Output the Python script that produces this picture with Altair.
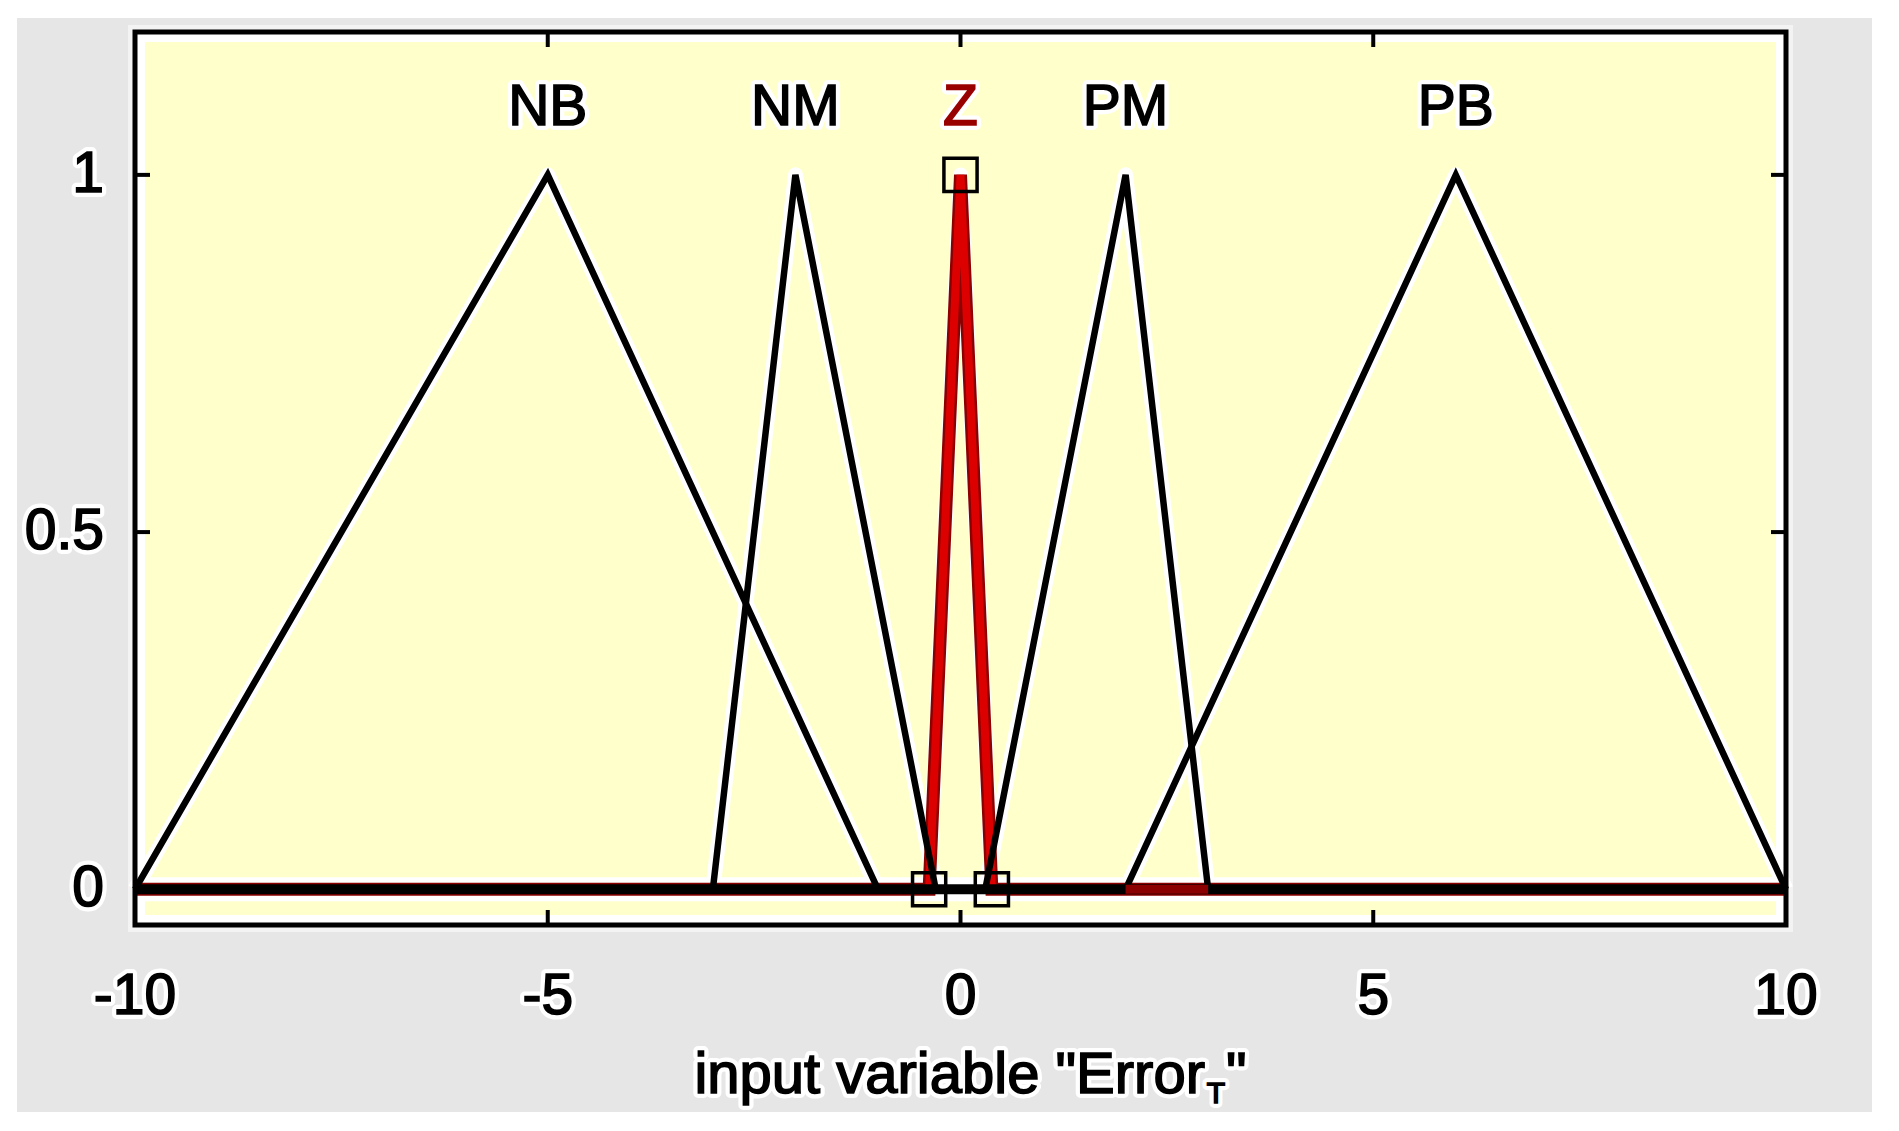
import altair as alt
import pandas as pd

# ---- data ----
mf_names = ["NB", "NM", "Z", "PM", "PB"]
mf_left = [-10, -3, -0.38, 0.3, 2]
mf_peak = [-5, -2, 0, 2, 6]
mf_right = [-1, -0.3, 0.38, 3, 10]
x_range = [-10, 10]
x_ticks = [-10, -5, 0, 5, 10]
y_ticks = [0, 0.5, 1]
red_segment = [2, 3]
title_main = 'input variable "Error'
title_sub = "T"
title_end = '"'
label_level = 1.094

W, H = 1651, 893
FONT = "Liberation Sans"

rows = []
for n, a, b, c in zip(mf_names, mf_left, mf_peak, mf_right):
    pts = [(x_range[0], 0), (a, 0), (b, 1), (c, 0), (x_range[1], 0)]
    for i, (x, y) in enumerate(pts):
        rows.append({"name": n, "i": i, "x": x, "y": y})
df = pd.DataFrame(rows)
df_black = df[df["name"] != "Z"]
df_z = df[df["name"] == "Z"]

zi = mf_names.index("Z")
sq = pd.DataFrame({"x": [mf_left[zi], mf_peak[zi], mf_right[zi]], "y": [0, 1, 0]})
lab = pd.DataFrame({"name": mf_names, "x": mf_peak, "y": [label_level] * len(mf_names),
                    "col": ["#990000" if n == "Z" else "black" for n in mf_names]})
xt = pd.DataFrame({"v": x_ticks, "t": [f"{v:g}" for v in x_ticks]})
yt = pd.DataFrame({"v": y_ticks, "t": [f"{v:g}" for v in y_ticks]})
one = pd.DataFrame({"k": [0]})
seg = pd.DataFrame({"x": [red_segment[0]], "x2": [red_segment[1]], "y": [0]})
rng = pd.DataFrame({"x": [x_range[0]], "x2": [x_range[1]], "y": [0]})

xs = alt.Scale(domain=x_range, nice=False, zero=False)
ys = alt.Scale(domain=[-0.05, 1.2], nice=False, zero=False)


def X(f="x:Q"):
    return alt.X(f, scale=xs, axis=None)


def Y(f="y:Q"):
    return alt.Y(f, scale=ys, axis=None)


bg = alt.Chart(one).mark_rect(fill="#e6e6e6").encode(
    x=alt.value(17 - 135), x2=alt.value(1872 - 135),
    y=alt.value(18 - 32), y2=alt.value(1112 - 32))
strip = alt.Chart(one).mark_rect(fill="#f3f3f3").encode(
    x=alt.value(-7), x2=alt.value(W + 7), y=alt.value(-7), y2=alt.value(H + 7))
white = alt.Chart(one).mark_rect(fill="white").encode(
    x=alt.value(0), x2=alt.value(W), y=alt.value(0), y2=alt.value(H))
yellow = alt.Chart(one).mark_rect(fill="#ffffcc").encode(
    x=alt.value(10), x2=alt.value(W - 10), y=alt.value(10), y2=alt.value(H - 10))

under = alt.Chart(df).mark_line(color="white", strokeWidth=15, strokeJoin="round").encode(
    x=X(), y=Y(), detail="name:N", order="i:Q")
base_under = alt.Chart(rng).mark_rule(color="white", strokeWidth=24).encode(
    x=X(), x2="x2:Q", y=Y())
zline_dark = alt.Chart(df_z).mark_line(color="#8b0000", strokeWidth=13).encode(
    x=X(), y=Y(), detail="name:N", order="i:Q")
zline = alt.Chart(df_z).mark_line(color="#dd0000", strokeWidth=8).encode(
    x=X(), y=Y(), detail="name:N", order="i:Q")
blines = alt.Chart(df_black).mark_line(color="black", strokeWidth=6.5).encode(
    x=X(), y=Y(), detail="name:N", order="i:Q")
baseline = alt.Chart(rng).mark_rule(color="black", strokeWidth=10).encode(
    x=X(), x2="x2:Q", y=Y())
redseg = alt.Chart(seg).mark_rule(color="#8b0000", strokeWidth=9).encode(
    x=X(), x2="x2:Q", y=Y())
squares = alt.Chart(sq).mark_point(shape="square", size=1100, filled=False,
                                   stroke="black", strokeWidth=3.5, opacity=1).encode(x=X(), y=Y())

tx_b = alt.Chart(xt).mark_rule(color="black", strokeWidth=4).encode(
    x=X("v:Q"), y=alt.value(H), y2=alt.value(H - 15))
tx_t = alt.Chart(xt).mark_rule(color="black", strokeWidth=4).encode(
    x=X("v:Q"), y=alt.value(0), y2=alt.value(15))
ty_l = alt.Chart(yt).mark_rule(color="black", strokeWidth=4).encode(
    y=Y("v:Q"), x=alt.value(0), x2=alt.value(15))
ty_r = alt.Chart(yt).mark_rule(color="black", strokeWidth=4).encode(
    y=Y("v:Q"), x=alt.value(W), x2=alt.value(W - 15))
frame = alt.Chart(one).mark_rect(fillOpacity=0, stroke="black", strokeWidth=5).encode(
    x=alt.value(0), x2=alt.value(W), y=alt.value(0), y2=alt.value(H))


def txt(data, halo, color_enc=False, **kw):
    if halo:
        return alt.Chart(data).mark_text(font=FONT, stroke="white",
                                         strokeWidth=10, strokeJoin="round", **kw)
    if color_enc:
        return alt.Chart(data).mark_text(font=FONT, strokeWidth=1.6, **kw)
    return alt.Chart(data).mark_text(font=FONT, stroke="black", strokeWidth=1.6, **kw)


layers = [bg, strip, white, yellow, under, base_under, zline_dark, zline, blines, baseline,
          redseg, squares, tx_b, tx_t, ty_l, ty_r, frame]

for halo in (True, False):
    lab_ch = txt(lab, halo, color_enc=True, fontSize=57, baseline="middle", align="center")
    enc = dict(x=X(), y=Y(), text="name:N", color=alt.Color("col:N", scale=None))
    if not halo:
        enc["stroke"] = alt.Stroke("col:N", scale=None)
    layers.append(lab_ch.encode(**enc))
    layers.append(txt(xt, halo, fontSize=57, baseline="middle", align="center", color="black").encode(
        x=X("v:Q"), y=alt.value(997 - 32), text="t:N"))
    layers.append(txt(yt, halo, fontSize=57, baseline="middle", align="right", color="black").encode(
        y=Y("v:Q"), x=alt.value(104 - 135), text="t:N"))
    layers.append(txt(one, halo, fontSize=58, baseline="alphabetic", align="right", color="black",
                      text=title_main).encode(x=alt.value(1205 - 135), y=alt.value(1093 - 32)))
    layers.append(txt(one, halo, fontSize=30, baseline="alphabetic", align="center", color="black",
                      text=title_sub).encode(x=alt.value(1216 - 135), y=alt.value(1103 - 32)))
    layers.append(txt(one, halo, fontSize=58, baseline="alphabetic", align="left", color="black",
                      text=title_end).encode(x=alt.value(1226 - 135), y=alt.value(1093 - 32)))

chart = alt.layer(*layers).properties(
    width=W, height=H,
    padding={"left": 127, "top": 24, "right": 100, "bottom": 190},
    autosize=alt.AutoSizeParams(type="none"),
    background="white",
).configure_view(stroke=None)

chart.save("out.html", embed_options={"renderer": "svg", "actions": False})
